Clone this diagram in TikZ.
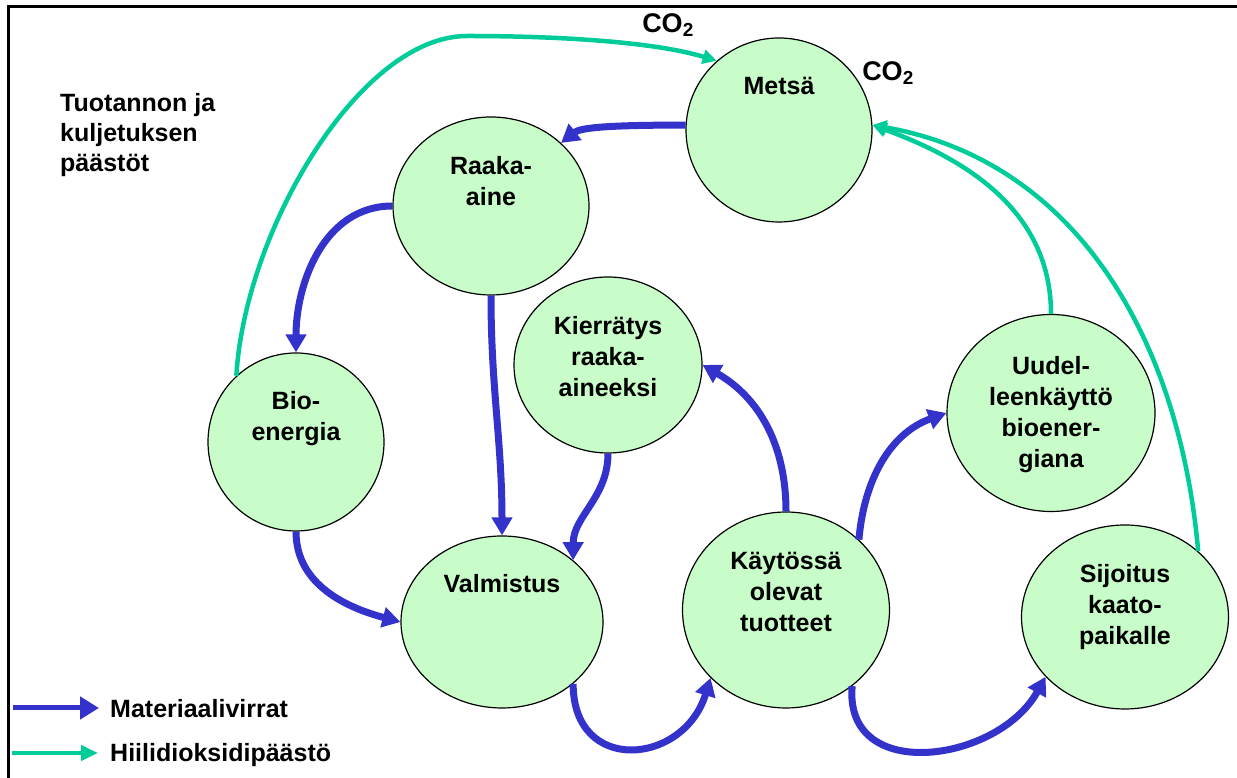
\documentclass[tikz,border=0pt]{standalone}
\usepackage{fontspec}
\setmainfont{Liberation Sans}
\usetikzlibrary{shapes.geometric,arrows.meta,positioning}
\definecolor{poolgreen}{HTML}{C8FCC8}
\definecolor{flowblue}{HTML}{3333CC}
\definecolor{cotwo}{HTML}{00CC99}
\begin{document}
\begin{tikzpicture}[x=1pt,y=1pt,
			pool/.style={ellipse,draw,line width=1.2pt,fill=poolgreen,inner sep=0pt},
			ptxt/.style={font=\bfseries\fontsize{25}{31}\selectfont,align=center,inner sep=0pt},
			lgd/.style={font=\bfseries\fontsize{25}{30}\selectfont,inner sep=0pt},
			flow/.style={line width=7pt,color=flowblue,-{Triangle[length=18pt,width=20pt]}},
			emis/.style={line width=4.5pt,color=cotwo,-{Triangle[length=14pt,width=14pt]}}]
			    \useasboundingbox (0,0) rectangle (1237,778);
			    \draw [line width=3pt] (8,0) -- (8,771) -- (1237,771);
			    \node [pool,minimum width=186,minimum height=184] (metsa) at (779,648) {};
			    \node [pool,minimum width=196,minimum height=178] (raaka) at (491,572) {};
			    \node [pool,minimum width=176,minimum height=178] (bio) at (296,336) {};
			    \node [pool,minimum width=188,minimum height=176] (kierr) at (608,413) {};
			    \node [pool,minimum width=202,minimum height=172] (valm) at (502,156) {};
			    \node [pool,minimum width=207,minimum height=196] (kayt) at (786,168) {};
			    \node [pool,minimum width=208,minimum height=197] (uude) at (1051,365) {};
			    \node [pool,minimum width=207,minimum height=184] (sijo) at (1125,161) {};
			    \node [ptxt,below=40pt of metsa.north] (metsat) {Metsä};
			    \node [ptxt,below=40pt of raaka.north] (raakat) {Raaka-\\aine};
			    \node [ptxt,below=39pt of bio.north] (biot) {Bio-\\energia};
			    \node [ptxt,below=40pt of kierr.north] (kierrt) {Kierrätys\\raaka-\\aineeksi};
			    \node [ptxt,below=39pt of valm.north] (valmt) {Valmistus};
			    \node [ptxt,below=41pt of kayt.north] (kaytt) {Käytössä\\olevat\\tuotteet};
			    \node [ptxt,below=42pt of uude.north] (uudet) {Uudel-\\leenkäyttö\\bioener-\\giana};
			    \node [ptxt,below=40pt of sijo.north] (sijot) {Sijoitus\\kaato-\\paikalle};
			    \node [ptxt,align=left,anchor=north west,font=\bfseries\fontsize{25}{30}\selectfont] (prod) at (60,685) {Tuotannon ja\\kuljetuksen\\päästöt};
			    \node [ptxt,font=\bfseries\fontsize{27}{30}\selectfont] (coa) at (668,753) {CO\textsubscript{2}};
			    \node [ptxt,font=\bfseries\fontsize{27}{30}\selectfont] (cob) at (888,705) {CO\textsubscript{2}};
			    \draw [flow] (metsa.177) .. controls (605,653) and (580,650) .. (raaka.42);
			    \draw [flow] (raaka.west) to[out=180,in=90] (bio.north);
			    \draw [flow] (raaka.south) to[out=-90,in=90] (valm.north);
			    \draw [flow] (kierr.south) to[out=-90,in=90] (valm.41);
			    \draw [flow] (bio.south) to[out=-90,in=165] (valm.west);
			    \draw [flow] (valm.-41) to[out=-90,in=-107,looseness=1.7] (kayt.222);
			    \draw [flow] (kayt.-49) to[out=-95,in=-119,looseness=1.3] (sijo.217);
			    \draw [flow] (kayt.north) to[out=90,in=-30] (kierr.east);
			    \draw [flow] (kayt.44) to[out=85,in=200] (uude.west);
			    \draw [emis] (bio.132) .. controls (245,548) and (360,742) .. (467,742) .. controls (560,742) and (655,736) .. (metsa.132);
			    \draw [emis] (uude.north) to[out=90,in=-20] (metsa.3);
			    \draw [emis] (sijo.42) to[out=95,in=-10] (metsa.3);
			    \node [lgd,anchor=base west] (lgmat) at (110,60) {Materiaalivirrat};
			    \node [lgd,anchor=base west] (lgco) at (110,16) {Hiilidioksidipäästö};
			    \coordinate (lgmata) at (13,70);
			    \coordinate (lgcoa) at (12,25);
			    \draw [line width=5pt,color=flowblue,-{Triangle[length=19pt,width=22pt]},shorten >=11pt] (lgmata) -- (lgmata -| lgmat.west);
			    \draw [line width=4pt,color=cotwo,-{Triangle[length=17pt,width=15pt]},shorten >=12pt] (lgcoa) -- (lgcoa -| lgco.west);
			\end{tikzpicture}
\end{document}
